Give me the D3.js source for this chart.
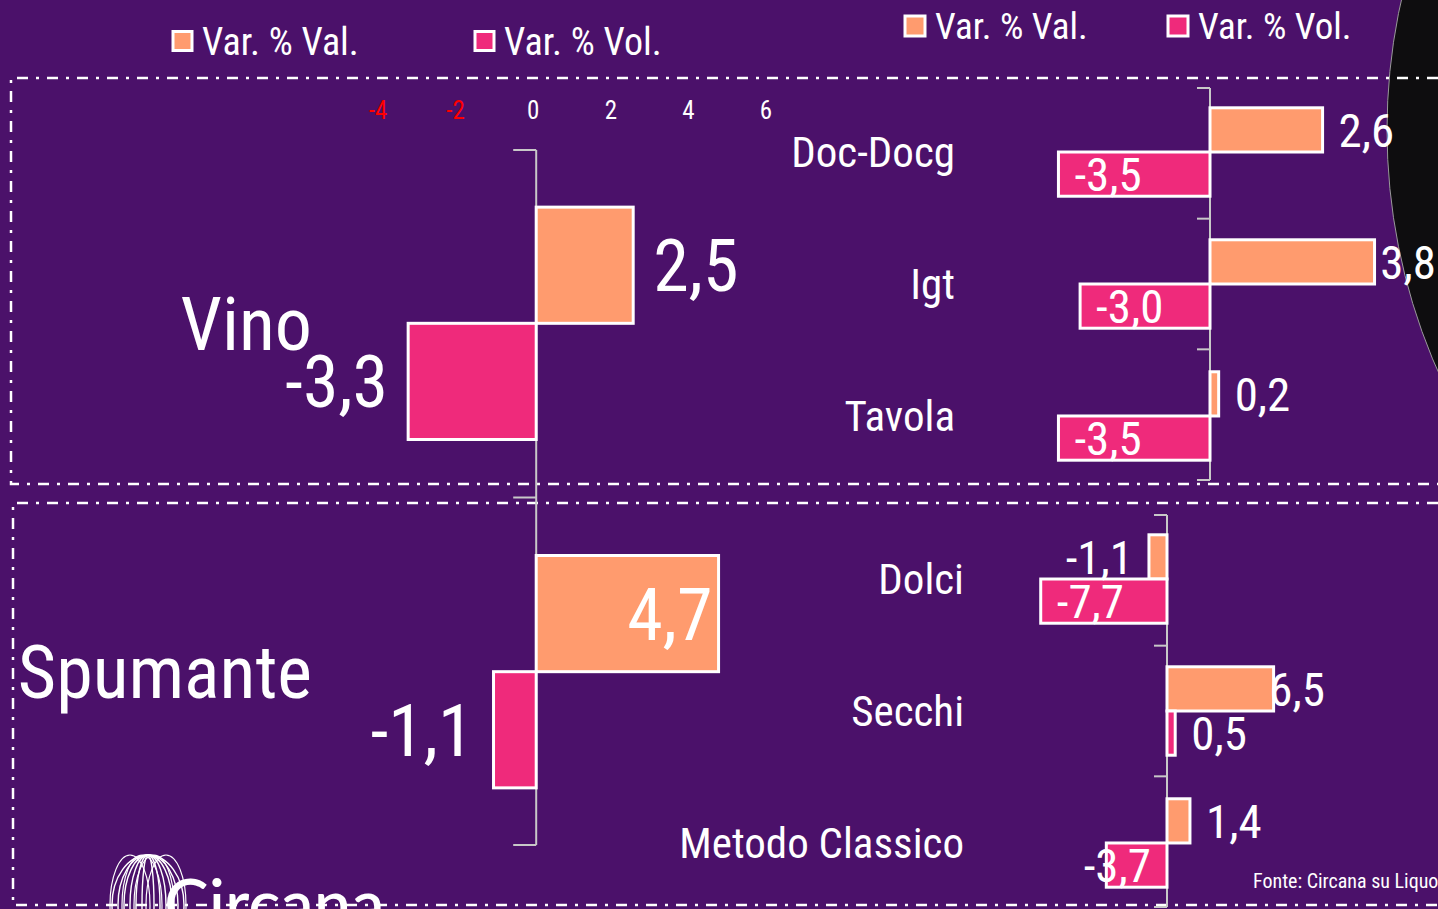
<!DOCTYPE html>
<html>
<head>
<meta charset="UTF-8">
<style>
  html, body { margin: 0; padding: 0; background: #4b116a; overflow: hidden; }
  svg text { font-family: "Roboto Condensed", "Liberation Sans Narrow", "DejaVu Sans Condensed", sans-serif; font-stretch: condensed; fill: #fff; }
</style>
</head>
<body>
<svg id="chart"></svg>
<script src="https://d3js.org/d3.v7.min.js"></script>
<script>
// data
const mainCats = ["Vino", "Spumante"];
const mainVal = [2.5, 4.7];
const mainVol = [-3.3, -1.1];

const vinoCats = ["Doc-Docg", "Igt", "Tavola"];
const vinoVal = [2.6, 3.8, 0.2];
const vinoVol = [-3.5, -3.0, -3.5];

const spumCats = ["Dolci", "Secchi", "Metodo Classico"];
const spumVal = [-1.1, 6.5, 1.4];
const spumVol = [-7.7, 0.5, -3.7];

const mainTicks = [-4, -2, 0, 2, 4, 6];
const seriesNames = ["Var. % Val.", "Var. % Vol."];

const width = 1438, height = 909;
const colVal = "#ff9b6e", colVol = "#ef2a7b";
const fmt = v => d3.format(".1f")(v).replace(".", ",").replace("\u2212", "-");

const svg = d3.select("#chart").attr("width", width).attr("height", height);

svg.append("rect").attr("width", width).attr("height", height).attr("fill", "#4b116a");

// dark disc on the right edge
svg.append("circle")
  .attr("cx", 1985).attr("cy", 130).attr("r", 598)
  .attr("fill", "#0e0d0f").attr("stroke", "#9a9a9a").attr("stroke-width", 1);

// dash-dot frames
const dash = "11 8 3 8";
svg.append("path")
  .attr("d", "M1438,78 H11 V484 H1438")
  .attr("fill", "none").attr("stroke", "#fff").attr("stroke-width", 2.5).attr("stroke-dasharray", dash);
svg.append("path")
  .attr("d", "M1438,503 H13 V905 H1438")
  .attr("fill", "none").attr("stroke", "#fff").attr("stroke-width", 2.5).attr("stroke-dasharray", dash);

// legends
function legend(x, y, size, fontSize, gapX) {
  const g = svg.append("g").attr("transform", `translate(${x},${y})`);
  seriesNames.forEach((s, i) => {
    const gi = g.append("g").attr("transform", `translate(${i * gapX},0)`);
    gi.append("rect").attr("x", 0).attr("y", -size / 2).attr("width", size).attr("height", size)
      .attr("fill", i === 0 ? colVal : colVol).attr("stroke", "#fff").attr("stroke-width", 3);
    gi.append("text").attr("x", size + 10).attr("y", 0).attr("dy", "0.36em")
      .attr("font-size", fontSize).text(s);
  });
}
legend(173, 41, 19, 38, 302);
legend(905, 26, 20, 37, 263);

// generic grouped horizontal bar chart
function barChart(o) {
  const g = svg.append("g");
  const x = d3.scaleLinear().domain(o.domain).range(o.xRange);
  const y = d3.scaleBand().domain(o.cats).range(o.yRange)
    .paddingInner(o.padIn).paddingOuter(o.padOut);
  const sub = d3.scaleBand().domain([0, 1]).range([0, y.bandwidth()]);

  const rows = o.cats.map((c, i) => ({ cat: c, vals: [o.val[i], o.vol[i]] }));

  // axis line with ticks at band boundaries
  const [r0, r1] = o.yRange;
  g.append("line").attr("x1", x(0)).attr("x2", x(0)).attr("y1", r0).attr("y2", r1)
    .attr("stroke", "#c8c8c8").attr("stroke-width", 2);
  g.selectAll(".tk").data(d3.range(o.cats.length + 1)).enter().append("line")
    .attr("x1", x(0) - o.tick).attr("x2", x(0))
    .attr("y1", i => r0 + i * (r1 - r0) / o.cats.length)
    .attr("y2", i => r0 + i * (r1 - r0) / o.cats.length)
    .attr("stroke", "#c8c8c8").attr("stroke-width", 2);

  const grp = g.selectAll(".row").data(rows).enter().append("g")
    .attr("transform", d => `translate(0,${y(d.cat)})`);

  grp.selectAll("rect").data(d => d.vals).enter().append("rect")
    .attr("x", v => x(Math.min(0, v)))
    .attr("y", (v, j) => sub(j))
    .attr("width", v => Math.abs(x(v) - x(0)))
    .attr("height", sub.bandwidth())
    .attr("fill", (v, j) => j === 0 ? colVal : colVol)
    .attr("stroke", "#fff").attr("stroke-width", 3);

  // value labels
  grp.each(function (d) {
    const row = d3.select(this);
    d.vals.forEach((v, j) => {
      const t = row.append("text").attr("font-size", o.valFont)
        .attr("y", sub(j) + sub.bandwidth() / 2).attr("dy", "0.36em").text(fmt(v));
      const w = t.node().getComputedTextLength();
      const barW = Math.abs(x(v) - x(0));
      if (v >= 0) {
        let sx = x(v) + o.gap;
        if (sx + w > o.limit) {
          if (o.flip) { t.attr("text-anchor", "end").attr("x", x(v) - 6); return; }
          sx = o.limit - w;
        }
        t.attr("x", sx);
      } else if (j === 1 && o.inside && barW >= w + 2 * o.gap) {
        t.attr("x", x(v) + o.gap);
      } else if (j === 1 && o.inside) {
        t.attr("text-anchor", "end").attr("x", x(0) - o.gap);
      } else {
        t.attr("text-anchor", "end").attr("x", x(v) - o.gap);
      }
    });
  });

  // category labels
  grp.append("text").attr("x", o.catX).attr("y", y.bandwidth() / 2).attr("dy", "0.36em")
    .attr("text-anchor", "end").attr("font-size", o.catFont).text(d => d.cat);

  return x;
}

const xMain = barChart({
  cats: mainCats, val: mainVal, vol: mainVol,
  domain: [-4, 6], xRange: [381, 769], yRange: [150, 845],
  padIn: 0.333, padOut: 0.164, tick: 23,
  valFont: 72, gap: 20, limit: 760, flip: true, inside: false,
  catX: 312, catFont: 74
});

// top tick labels of the main chart
svg.selectAll(".mt").data(mainTicks).enter().append("text")
  .attr("x", d => xMain(d) - 3).attr("y", 110).attr("dy", "0.36em")
  .attr("text-anchor", "middle").attr("font-size", 25)
  .style("fill", d => d < 0 ? "#ff0000" : "#fff")
  .text(d => d);

barChart({
  cats: vinoCats, val: vinoVal, vol: vinoVol,
  domain: [-4, 4], xRange: [1210 - 173.2, 1210 + 173.2], yRange: [88, 480],
  padIn: 0.33, padOut: 0.15, tick: 13,
  valFont: 47, gap: 16, limit: 1436, flip: false, inside: true,
  catX: 955, catFont: 43
});

barChart({
  cats: spumCats, val: spumVal, vol: spumVol,
  domain: [-8, 8], xRange: [1167 - 131.2, 1167 + 131.2], yRange: [515, 907],
  padIn: 0.33, padOut: 0.15, tick: 13,
  valFont: 47, gap: 16, limit: 1325, flip: false, inside: true,
  catX: 964, catFont: 43
});

// source note
svg.append("text").attr("x", 1253).attr("y", 888).attr("font-size", 20).text("Fonte: Circana su Liquori e Vini");

// logo (cut off at the bottom)
const logo = svg.append("g").attr("transform", "translate(148,905)");
[36, 30, 24, 18, 12, 6].forEach(rx => {
  logo.append("ellipse").attr("cx", 0).attr("cy", 0).attr("rx", rx).attr("ry", 50)
    .attr("fill", "none").attr("stroke", "#fff").attr("stroke-width", 1.4);
});
[-18, -6, 6, 18].forEach(dx => {
  logo.append("ellipse").attr("cx", dx).attr("cy", 0).attr("rx", 20).attr("ry", 50)
    .attr("fill", "none").attr("stroke", "#fff").attr("stroke-width", 1.2);
});
svg.append("text").attr("x", 164).attr("y", 928).attr("font-size", 67)
  .style("font-family", "Lato, 'Noto Sans', sans-serif").style("font-stretch", "normal")
  .style("font-weight", 500).text("Circana");
</script>
</body>
</html>
